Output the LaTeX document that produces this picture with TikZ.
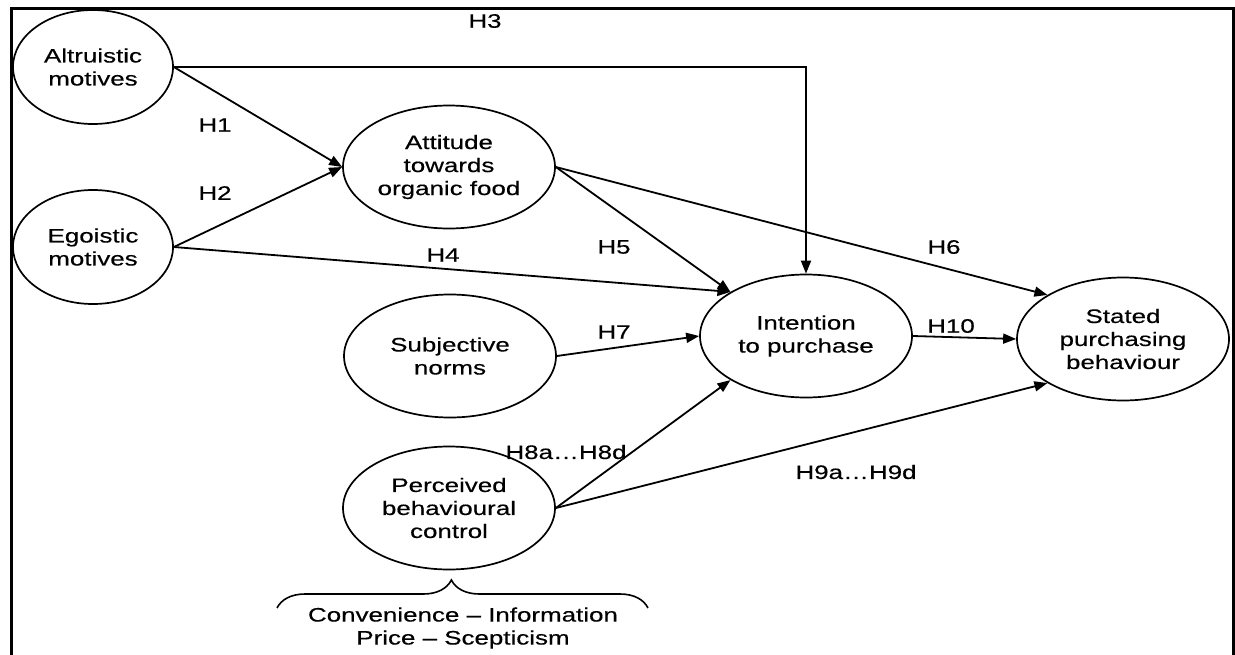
\documentclass[tikz,border=0pt]{standalone}
\usepackage{fontspec}
\setmainfont[FakeStretch=1.33,FakeBold=0.4]{Liberation Sans}
\usetikzlibrary{arrows.meta,decorations.pathreplacing,shapes.geometric}
\begin{document}
\begin{tikzpicture}[x=1pt,y=-1pt,
  every node/.style={font=\fontsize{19.5}{23}\selectfont},
  small/.style={ellipse,draw,line width=1.7pt,minimum width=160pt,minimum height=114pt,inner sep=0pt,align=center},
  big/.style={ellipse,draw,line width=1.7pt,minimum width=212pt,minimum height=123pt,inner sep=0pt,align=center},
  conn/.style={line width=1.8pt,-{Triangle[length=13pt,width=10pt]}},
  hlab/.style={inner sep=0pt}
]
\useasboundingbox (0,0) rectangle (1235,654);
\draw[line width=3pt] (11,660) -- (11,8) -- (1233,8) -- (1233,660);

\node[small] (alt) at (93,67) {Altruistic\\motives};
\node[small] (ego) at (93,247) {Egoistic\\motives};
\node[big] (att) at (449,167) {Attitude\\towards\\organic food};
\node[big] (sub) at (450,356) {Subjective\\norms};
\node[big] (pbc) at (449,508) {Perceived\\behavioural\\control};
\node[big] (int) at (806,336) {Intention\\to purchase};
\node[big] (sta) at (1123,339) {Stated\\purchasing\\behaviour};

\draw[conn] (alt.east) -- (att.west);
\draw[conn] (ego.east) -- (att.west);
\draw[conn] (alt.east) -| (int.north);
\draw[conn] (ego.east) -- (int.north west);
\draw[conn] (att.east) -- (int.north west);
\draw[conn] (att.east) -- (sta.north west);
\draw[conn] (sub.east) -- (int.west);
\draw[conn] (pbc.east) -- (int.south west);
\draw[conn] (pbc.east) -- (sta.south west);
\draw[conn] (int.east) -- (sta.west);

\node[hlab] (h1) at (215,125) {H1};
\node[hlab] (h2) at (215,193) {H2};
\node[hlab] (h3) at (485,21) {H3};
\node[hlab] (h4) at (443,255) {H4};
\node[hlab] (h5) at (614,247) {H5};
\node[hlab] (h6) at (944,247) {H6};
\node[hlab] (h7) at (614,332) {H7};
\node[hlab] (h8) at (566,452) {H8a…H8d};
\node[hlab] (h9) at (856,472) {H9a…H9d};
\node[hlab] (h10) at (951,326) {H10};

\coordinate (bl) at (277,608);
\coordinate (br) at (648,608);
\draw[line width=1.6pt,decorate,decoration={brace,amplitude=28pt,aspect=0.47}] (bl) -- (br);
\node[align=center,inner sep=0pt] (dims) at (463,628) {Convenience – Information\\Price – Scepticism};
\end{tikzpicture}
\end{document}
